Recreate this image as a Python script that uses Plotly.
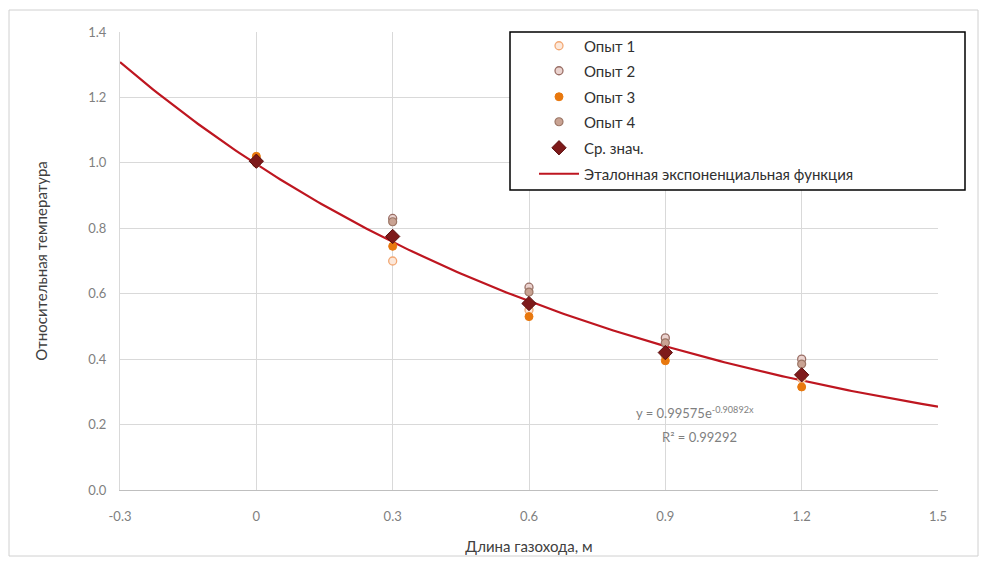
import numpy as np
import plotly.graph_objects as go

# --- data ---
x_pos = [0.0, 0.3, 0.6, 0.9, 1.2]
opyt1 = [1.00, 0.70, 0.55, 0.41, 0.34]
opyt2 = [1.01, 0.83, 0.62, 0.465, 0.40]
opyt3 = [1.02, 0.745, 0.53, 0.395, 0.315]
opyt4 = [1.00, 0.82, 0.605, 0.45, 0.385]
mean_vals = [1.005, 0.775, 0.57, 0.42, 0.352]
fit_a = 0.99575
fit_b = -0.90892
fit_r2 = 0.99292
x_ticks = [-0.3, 0, 0.3, 0.6, 0.9, 1.2, 1.5]
x_ticktext = ["-0.3", "0", "0.3", "0.6", "0.9", "1.2", "1.5"]
y_ticks = [0.0, 0.2, 0.4, 0.6, 0.8, 1.0, 1.2, 1.4]

W, H = 981, 563
ml, mr, mt, mb = 120, 43, 32, 73
pw, ph = W - ml - mr, H - mt - mb

def px_x(p):
    return (p - ml) / pw

def px_y(p):
    return (H - mb - p) / ph

xf = np.linspace(-0.3, 1.5, 200)
yf = fit_a * np.exp(fit_b * xf)

fig = go.Figure()
fig.add_trace(go.Scatter(x=xf, y=yf, mode="lines", name="Эталонная экспоненциальная функция",
                         line=dict(color="#BE1620", width=2.2), legend="legend6", showlegend=True))
fig.add_trace(go.Scatter(x=x_pos, y=opyt1, mode="markers", name="Опыт 1", legend="legend", showlegend=True,
                         marker=dict(symbol="circle", size=8, color="#FCE8DA",
                                     line=dict(color="#F2A874", width=1.3))))
fig.add_trace(go.Scatter(x=x_pos, y=opyt2, mode="markers", name="Опыт 2", legend="legend2", showlegend=True,
                         marker=dict(symbol="circle", size=8, color="#EBD3CF",
                                     line=dict(color="#9A6F66", width=1.3))))
fig.add_trace(go.Scatter(x=x_pos, y=opyt3, mode="markers", name="Опыт 3", legend="legend3", showlegend=True,
                         marker=dict(symbol="circle", size=8, color="#E8780E",
                                     line=dict(color="#E8780E", width=1))))
fig.add_trace(go.Scatter(x=x_pos, y=opyt4, mode="markers", name="Опыт 4", legend="legend4", showlegend=True,
                         marker=dict(symbol="circle", size=8, color="#C9A393",
                                     line=dict(color="#9C7767", width=1.2))))
fig.add_trace(go.Scatter(x=x_pos, y=mean_vals, mode="markers", name="Ср. знач.", legend="legend5", showlegend=True,
                         marker=dict(symbol="diamond", size=11, color="#7E1A1A",
                                     line=dict(color="#5A0E0E", width=1))))

fig.add_annotation(x=0.965, y=0.238, xref="x", yref="y", showarrow=False,
                   text=f"y = {fit_a}e<sup>{fit_b}x</sup>", font=dict(size=13, color="#7F7F7F"),
                   xanchor="center")
fig.add_annotation(x=0.975, y=0.162, xref="x", yref="y", showarrow=False,
                   text=f"R² = {fit_r2}", font=dict(size=13, color="#7F7F7F"), xanchor="center")

shapes = [
    dict(type="rect", xref="paper", yref="paper",
         x0=px_x(510), x1=px_x(965), y0=px_y(190), y1=px_y(32),
         line=dict(color="#000000", width=1.5), fillcolor="white", layer="above"),
    dict(type="rect", xref="paper", yref="paper",
         x0=px_x(9), x1=px_x(978), y0=px_y(556), y1=px_y(10),
         line=dict(color="#D0D0D0", width=1), layer="below"),
]

legend_centers = [46, 71, 97, 122, 148, 174]
legends = {}
for i, yc in enumerate(legend_centers):
    key = "legend" if i == 0 else f"legend{i + 1}"
    legends[key] = dict(x=px_x(534), y=px_y(yc), xanchor="left", yanchor="middle",
                        bgcolor="rgba(0,0,0,0)", borderwidth=0, visible=True,
                        font=dict(size=15, color="#303030"), itemwidth=40)

fig.update_layout(
    width=W, height=H,
    margin=dict(l=ml, r=mr, t=mt, b=mb),
    paper_bgcolor="white", plot_bgcolor="white",
    showlegend=True,
    font=dict(family="Lato, Open Sans, sans-serif", color="#404040"),
    shapes=shapes,
    xaxis=dict(range=[-0.3, 1.5], tickvals=x_ticks, ticktext=x_ticktext,
               showgrid=True, gridcolor="#D9D9D9", gridwidth=1, zeroline=False,
               showline=True, linecolor="#BFBFBF", ticks="", ticklabelstandoff=14,
               tickfont=dict(size=13, color="#7F7F7F"),
               title=dict(text="Длина газохода, м", font=dict(size=15, color="#404040"), standoff=18)),
    yaxis=dict(range=[0, 1.4], tickvals=y_ticks, tickformat=".1f",
               showgrid=True, gridcolor="#D9D9D9", gridwidth=1, zeroline=False,
               showline=True, linecolor="#D9D9D9", mirror=False, ticks="",
               ticklabelstandoff=10,
               tickfont=dict(size=13, color="#7F7F7F"),
               title=dict(text="Относительная температура", font=dict(size=15, color="#404040"), standoff=36)),
    **legends,
)

fig.write_html("out.html", config={"displayModeBar": False},
               post_script="document.body.style.margin='0px';")
